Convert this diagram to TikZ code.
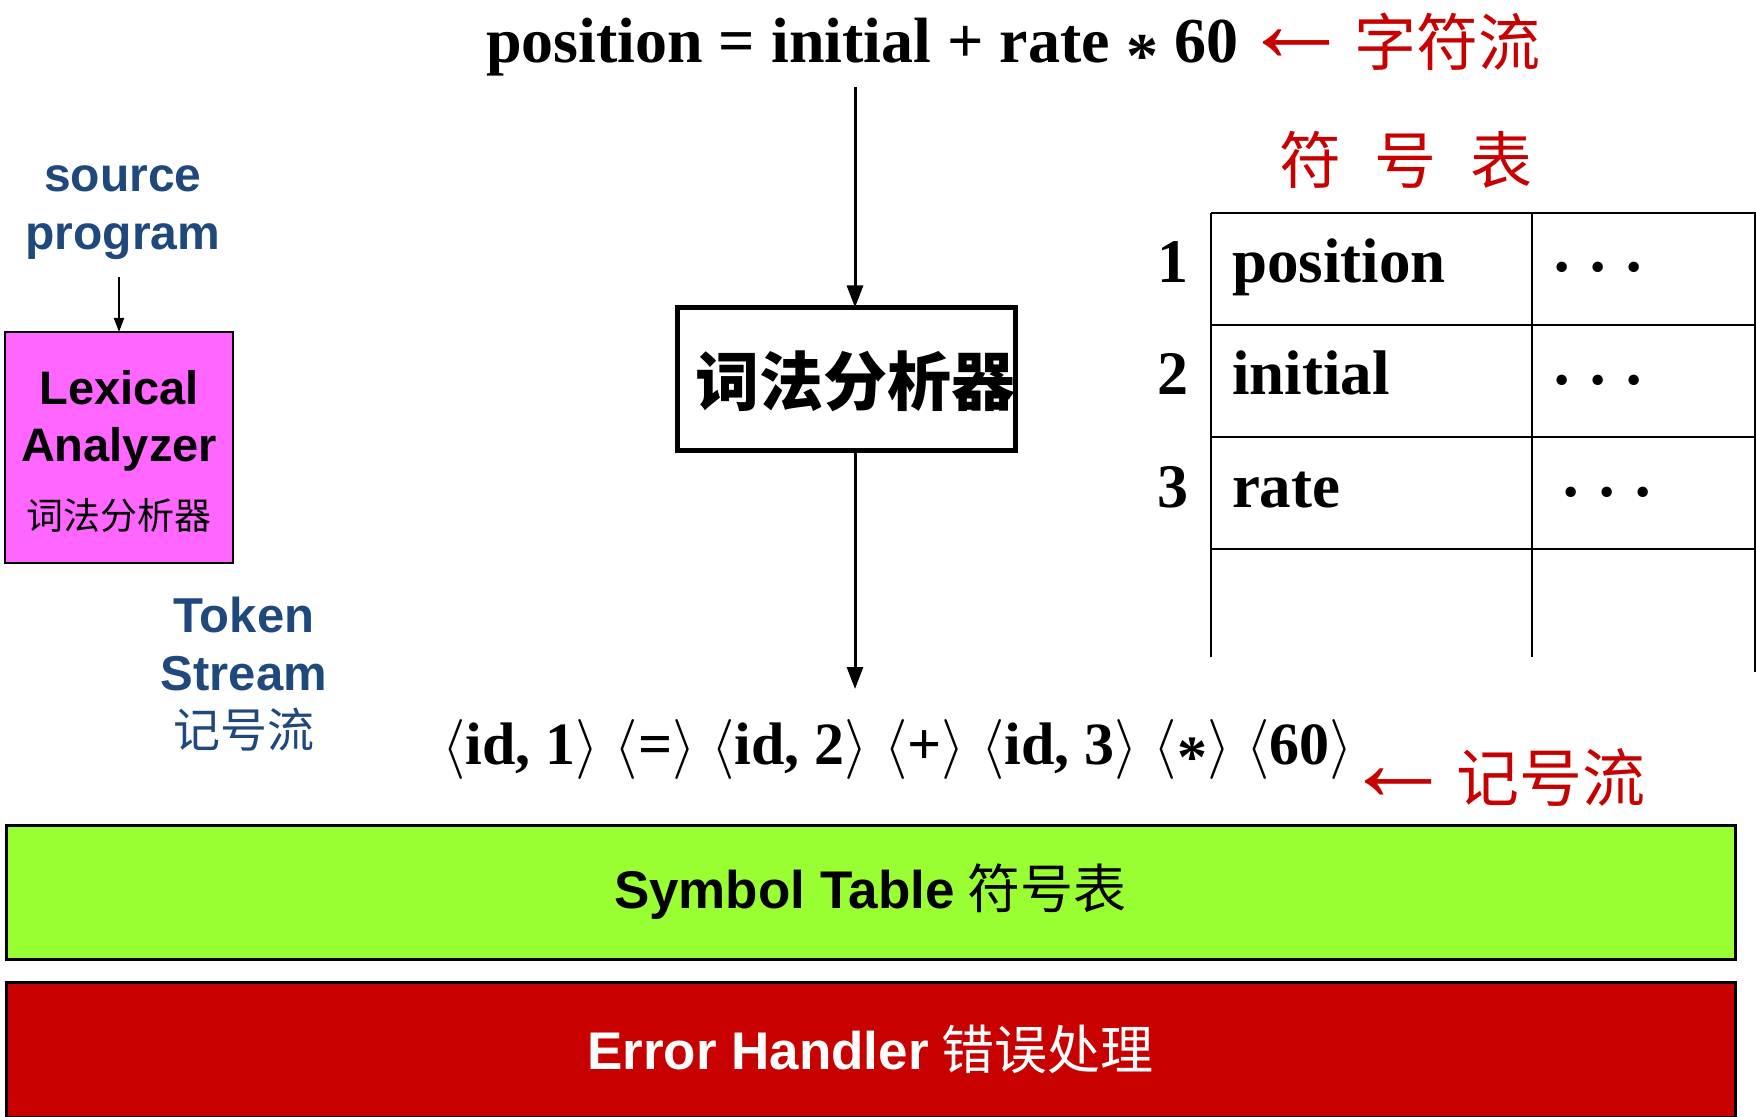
\RequirePackage{fix-cm}
\documentclass[tikz,border=0pt]{standalone}
\usepackage{amsmath}
\usepackage{fontspec}
\setmainfont{Liberation Serif}
\newfontfamily\arial{Liberation Sans}
\newfontfamily\cjk{Noto Sans CJK SC}
\usetikzlibrary{arrows.meta}
\definecolor{myred}{RGB}{200,0,0}
\definecolor{myblue}{RGB}{31,73,125}
\definecolor{mymag}{RGB}{255,102,255}
\definecolor{mygreen}{RGB}{153,255,51}
\newcommand{\fs}[1]{\fontsize{#1}{1.2\dimexpr#1pt\relax}\selectfont}
\newcommand{\tdots}{·\hspace{7.5pt}·\hspace{7.5pt}·}
\begin{document}
\begin{tikzpicture}[x=0.5pt,y=-0.5pt,
  every node/.style={inner sep=0pt,outer sep=0pt},
  bigarrow/.style={line width=1.5pt,-{Triangle[length=11pt,width=8pt]}},
  smallarrow/.style={line width=1pt,-{Triangle[length=7pt,width=5pt]}},
  tbl/.style={line width=1.25pt},
  bluetxt/.style={text=myblue,font=\arial\bfseries},
  bar/.style={draw,line width=1.5pt,minimum width=864.5pt},
  serifbold/.style={font=\bfseries}]
\useasboundingbox (0,0) rectangle (1756,1117);

% top expression
\node[anchor=base west,serifbold] (expr) at (486,63) {\fs{32}position = initial + rate \raisebox{-0.22em}{*} 60};
\node[anchor=west,text=myred,font=\bfseries] (arrA) at (1240,46) {\fs{56}←};
\node[text=myred] (charstream) at (1447,42) {\fs{31}\cjk 字符流};

% central box
\coordinate (axis) at (855,0);
\node[draw,line width=2.5pt,minimum width=169pt,minimum height=71.5pt] (lexbox) at (846.5,379) {};
\node (lexboxtxt) at (855,381) {\fs{32}\cjk\bfseries 词法分析器};
\draw[bigarrow] ([yshift=-5pt]expr.south -| axis) -- (lexbox.north -| axis);

% token string
\node[anchor=base west,serifbold] (tok) at (442,764) {\fs{30}%
$\langle$id, 1$\rangle$\hspace{8pt}$\langle$=$\rangle$\hspace{8pt}$\langle$id, 2$\rangle$\hspace{8pt}$\langle$+$\rangle$\hspace{8pt}$\langle$id, 3$\rangle$\hspace{8pt}$\langle$\raisebox{-0.22em}{*}$\rangle$\hspace{8pt}$\langle$60$\rangle$};
\draw[bigarrow,shorten >=15pt] (lexbox.south -| axis) -- (tok.north -| axis);
\node[anchor=west,text=myred,font=\bfseries] (arrB) at (1342,785) {\fs{56}←};
\node[text=myred] (tokstream) at (1551,778) {\fs{31.5}\cjk 记号流};

% left side
\node[anchor=base,bluetxt] (src) at (123,192) {\fs{24}\begin{tabular}[t]{@{}c@{}}source\\program\end{tabular}};
\node[draw,line width=1pt,fill=mymag,minimum width=114pt,minimum height=115.5pt] (lexa) at (119,447.5) {};
\node[anchor=base,font=\arial\bfseries] (lexatxt) at (119,405) {\fs{23.5}\begin{tabular}[t]{@{}c@{}}Lexical\\Analyzer\\[6pt]{\mdseries\cjk\fs{18.5}词法分析器}\end{tabular}};
\draw[smallarrow] ([yshift=-5pt]src.south -| lexa.north) -- (lexa.north);
\node[anchor=base,bluetxt] (tstream) at (244,632) {\fs{24.5}\begin{tabular}[t]{@{}c@{}}Token\\Stream\\[-1pt]{\mdseries\cjk\fs{23.5}记号流}\end{tabular}};

% symbol table
\node[text=myred] (sthead) at (1406,160) {\fs{31}\cjk 符\hspace{17pt}号\hspace{17pt}表};
\draw[tbl] (1211,213) -- (1756,213);
\draw[tbl] (1211,325) -- (1756,325);
\draw[tbl] (1211,437) -- (1756,437);
\draw[tbl] (1211,549) -- (1756,549);
\draw[tbl] (1211,213) -- (1211,657);
\draw[tbl] (1532,213) -- (1532,657);
\draw[tbl] (1755,213) -- (1755,672);
\node[anchor=base,serifbold] (n1) at (1173,283) {\fs{31}1};
\node[anchor=base,serifbold] (n2) at (1173,395) {\fs{31}2};
\node[anchor=base,serifbold] (n3) at (1173,507) {\fs{31}3};
\node[anchor=base west,serifbold] (e1) at (1232,283) {\fs{31.5}position};
\node[anchor=base west,serifbold] (e2) at (1232,395) {\fs{31.5}initial};
\node[anchor=base west,serifbold] (e3) at (1232,507) {\fs{31.5}rate};
\node[anchor=base,serifbold] (d1) at (1598,289) {\fs{32}\tdots};
\node[anchor=base,serifbold] (d2) at (1598,401) {\fs{32}\tdots};
\node[anchor=base,serifbold] (d3) at (1607,513) {\fs{32}\tdots};

% bars
\node[bar,fill=mygreen,minimum height=67pt] (symtab) at (870.5,892) {\raisebox{-1.5pt}{\fs{26.5}{\arial\bfseries Symbol Table} {\cjk 符号表}}};
\node[bar,fill=myred,minimum height=67.5pt,text=white] (errh) at (870.5,1049.5) {\fs{26.5}{\arial\bfseries Error Handler} {\cjk 错误处理}};
\end{tikzpicture}
\end{document}
